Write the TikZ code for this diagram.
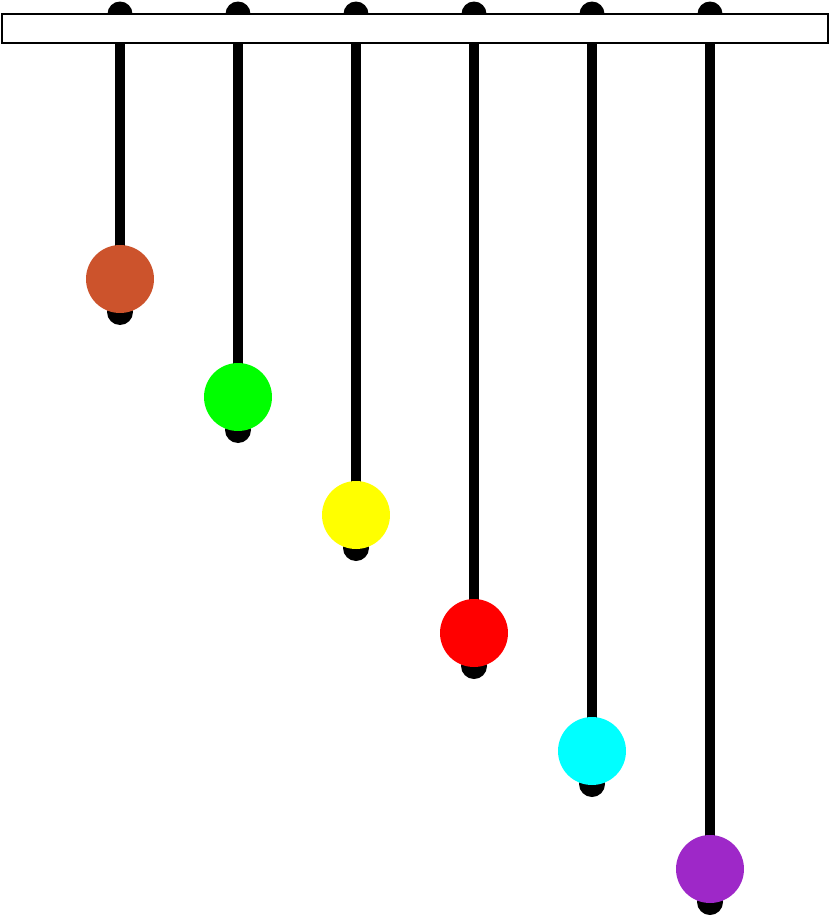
\documentclass[tikz,border=0pt]{standalone}
\definecolor{rust}{HTML}{CC532C}
\definecolor{lime}{HTML}{00FF00}
\definecolor{lemon}{HTML}{FFFF00}
\definecolor{scarlet}{HTML}{FF0000}
\definecolor{aqua}{HTML}{00FFFF}
\definecolor{violet}{HTML}{9E28C8}
\begin{document}
\begin{tikzpicture}[x=0.02cm,y=-0.02cm]
    \useasboundingbox (0,0) rectangle (830,916);
    % threads, hinges and weights
    \foreach \i/\c in {0/rust,1/lime,2/lemon,3/scarlet,4/aqua,5/violet}{
        \pgfmathsetmacro{\px}{120+118*\i}
        \pgfmathsetmacro{\py}{312+118*\i}
        \fill (\px,14) circle (0.25cm);
        \draw [line width=5.7pt] (\px,14)--(\px,\py);
        \fill (\px,\py) circle (0.26cm);
        \fill [\c] (\px,\py-33) circle (0.68cm);
    }
    % bar
    \draw [line width=1.2pt,fill=white] (2,14) rectangle (828,43);
\end{tikzpicture}
\end{document}
